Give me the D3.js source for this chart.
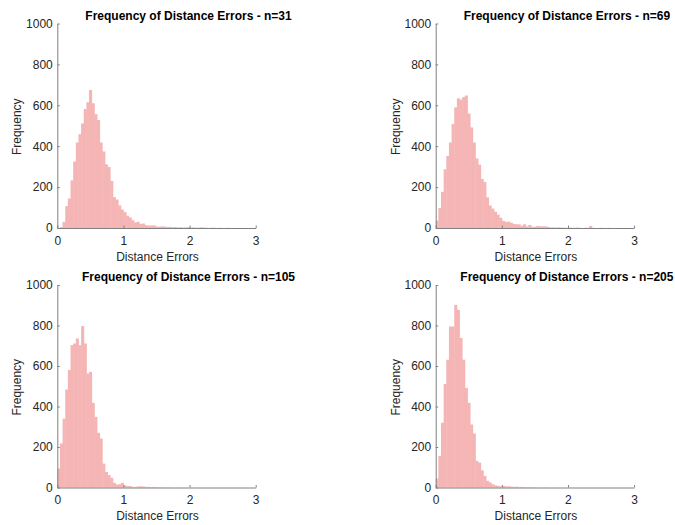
<!DOCTYPE html>
<html><head><meta charset="utf-8">
<script src="https://cdn.jsdelivr.net/npm/d3@7"></script>
<style>body{margin:0;background:#fff}svg{display:block}</style>
</head><body><svg id="c" width="675" height="525"></svg>
<script>
// ---- data ----
const titles = ["Frequency of Distance Errors - n=31", "Frequency of Distance Errors - n=69",
                "Frequency of Distance Errors - n=105", "Frequency of Distance Errors - n=205"];
const xLabel = "Distance Errors";
const yLabel = "Frequency";
const binWidth = 0.04;
const xTicks = [0, 1, 2, 3];
const yTicks = [0, 200, 400, 600, 800, 1000];
const countsN31 = [0, 5, 30, 107, 144, 233, 325, 418, 459, 511, 582, 615, 675, 610, 557, 528, 418, 374, 311, 298,
  230, 151, 139, 110, 90, 78, 60, 52, 38, 27, 30, 20, 22, 14, 12, 12, 13, 8, 6, 8,
  7, 5, 6, 4, 5, 3, 4, 2, 3, 4, 2, 3, 1, 2, 3, 2, 1, 0, 2, 1, 0, 1, 0, 0, 1, 0, 0, 0, 0, 0, 0, 0, 0, 0, 0];
const countsN69 = [36, 98, 177, 287, 352, 418, 508, 590, 634, 628, 640, 648, 560, 492, 418, 340, 310, 240, 225, 150,
  110, 95, 80, 65, 50, 35, 30, 31, 26, 20, 18, 18, 11, 18, 8, 15, 6, 6, 10, 8,
  8, 8, 5, 3, 3, 2, 3, 2, 2, 1, 2, 1, 1, 2, 1, 0, 1, 1, 10, 1, 0, 0, 1, 0, 0, 1, 0, 0, 0, 0, 0, 0, 0, 0, 0];
const countsN105 = [94, 217, 340, 484, 580, 703, 711, 736, 703, 797, 711, 563, 571, 418, 349, 270, 242, 118, 77, 61,
  48, 23, 15, 16, 23, 10, 7, 7, 3, 3, 5, 6, 5, 3, 3, 2, 3, 2, 1, 1,
  1, 0, 1, 0, 0, 1, 0, 0, 0, 0, 0, 0, 0, 0, 0, 0, 0, 0, 0, 0, 0, 0, 0, 0, 0, 0, 0, 0, 0, 0, 0, 0, 0, 0, 0];
const countsN205 = [44, 156, 320, 511, 631, 795, 795, 902, 877, 738, 631, 492, 418, 311, 267, 131, 123, 85, 57, 33,
  25, 16, 11, 8, 5, 8, 5, 6, 4, 3, 4, 2, 3, 2, 1, 2, 1, 1, 0, 1,
  0, 1, 0, 0, 0, 0, 0, 0, 0, 0, 0, 0, 0, 0, 0, 0, 0, 0, 0, 0, 0, 0, 0, 0, 0, 0, 0, 0, 0, 0, 0, 0, 0, 0, 0];
const allCounts = [countsN31, countsN69, countsN105, countsN205];

// ---- layout ----
const layout = [
  {x0: 57.3, x1: 255.7, yTop: 23.5, yBot: 228},
  {x0: 435.7, x1: 634.1, yTop: 23.5, yBot: 228},
  {x0: 57.3, x1: 255.7, yTop: 285, yBot: 487.5},
  {x0: 435.7, x1: 634.1, yTop: 285, yBot: 487.5}
];
const FONT = "'Liberation Sans', Arial, Helvetica, sans-serif";
const textColor = "#262626";
const axisColor = "#808080";
const barColor = "#f5b5b5";

const svg = d3.select("#c");

layout.forEach((L, i) => {
  const counts = allCounts[i];
  const x = d3.scaleLinear().domain([0, 3]).range([L.x0, L.x1]);
  const y = d3.scaleLinear().domain([0, 1000]).range([L.yBot, L.yTop]);
  const g = svg.append("g");

  const bins = counts.map((c, k) => ({start: k * binWidth, count: c})).filter(d => d.count > 0);
  g.append("g").selectAll("rect").data(bins).join("rect")
    .attr("x", d => x(d.start))
    .attr("width", d => x(d.start + binWidth) - x(d.start) + 0.45)
    .attr("y", d => y(d.count))
    .attr("height", d => y(0) - y(d.count))
    .attr("fill", barColor);

  const xa = g.append("g").attr("transform", `translate(0,${L.yBot})`)
    .call(d3.axisBottom(x).tickValues(xTicks).tickFormat(d3.format("d")).tickSizeInner(-2.5).tickSizeOuter(0).tickPadding(6));
  const ya = g.append("g").attr("transform", `translate(${L.x0},0)`)
    .call(d3.axisLeft(y).tickValues(yTicks).tickFormat(d3.format("d")).tickSizeInner(-2.5).tickSizeOuter(0).tickPadding(4.5));
  [xa, ya].forEach(a => {
    a.select(".domain").attr("stroke", axisColor).attr("stroke-width", 1);
    a.selectAll(".tick line").attr("stroke", axisColor).attr("stroke-width", 1);
    a.selectAll("text").attr("fill", textColor).style("font-family", FONT).style("font-size", "12px");
  });
  xa.selectAll("text").attr("dy", null).attr("y", 16.5);

  const cx = (L.x0 + L.x1) / 2;
  g.append("text").attr("x", cx + 1).attr("y", L.yBot + 32.5)
    .attr("text-anchor", "middle").attr("fill", textColor)
    .style("font-family", FONT).style("font-size", "12px").text(xLabel);
  g.append("text").attr("transform", `translate(${L.x0 - 36},${(L.yTop + L.yBot) / 2 + 1}) rotate(-90)`)
    .attr("text-anchor", "middle").attr("fill", textColor)
    .style("font-family", FONT).style("font-size", "12px").text(yLabel);
  g.append("text").attr("x", cx + 32).attr("y", L.yTop - 4)
    .attr("text-anchor", "middle").attr("fill", "#000")
    .style("font-family", FONT).style("font-size", "12px").style("font-weight", "bold").text(titles[i]);
});
</script></body></html>
